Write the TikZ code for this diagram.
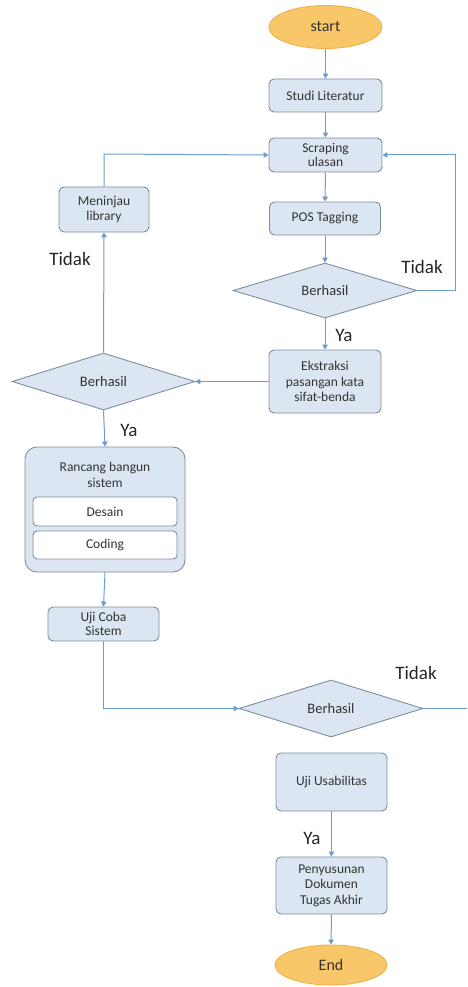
\documentclass[tikz,border=0pt]{standalone}
\usepackage{fontspec}
\setmainfont{Carlito}
\usetikzlibrary{shapes.geometric,arrows.meta}
\definecolor{boxfill}{HTML}{DCE6F2}
\definecolor{boxline}{HTML}{7D8DA0}
\definecolor{arr}{HTML}{6C9BD0}
\definecolor{ovfill}{HTML}{F8C76A}
\definecolor{ovline}{HTML}{EDB246}
\definecolor{txt}{HTML}{333333}
\begin{document}
\begin{tikzpicture}[x=1pt,y=-1pt,
  every node/.style={text=txt,font=\fontsize{13.5}{15.5}\selectfont},
  pbox/.style={draw=boxline,fill=boxfill,line width=0.9pt,rounded corners=5pt,align=center,inner sep=1pt},
  subbox/.style={draw=boxline,fill=white,line width=0.9pt,rounded corners=4pt,align=center,inner sep=1pt},
  oval/.style={ellipse,draw=ovline,fill=ovfill,line width=0.9pt,inner sep=0pt,font=\fontsize{16}{18}\selectfont},
  dec/.style={diamond,draw=boxline,fill=boxfill,line width=0.9pt,aspect=3.3,inner sep=0pt,font=\fontsize{14.5}{16}\selectfont},
  lbl/.style={font=\fontsize{19}{21}\selectfont,text=black!85},
  conn/.style={draw=arr,line width=1pt},
  arw/.style={conn,-{Triangle[length=5pt,width=5.5pt]}}]
\useasboundingbox (0,0) rectangle (467,987);
\node[oval,minimum width=113,minimum height=43] (start) at (325.5,27) {start};
\node[pbox,minimum width=113,minimum height=33] (studi) at (325.5,95.5) {Studi Literatur};
\node[pbox,minimum width=113,minimum height=34] (scrap) at (325.5,155) {Scraping\\[-2pt]ulasan};
\node[pbox,minimum width=111,minimum height=33] (pos) at (325,218.5) {POS Tagging};
\node[dec,minimum width=184,minimum height=55] (d1) at (325,290.5) {Berhasil};
\node[pbox,minimum width=90,minimum height=45] (mein) at (104,209.5) {Meninjau\\library};
\node[pbox,minimum width=112,minimum height=63] (eks) at (325,381.5) {Ekstraksi\\pasangan kata\\sifat-benda};
\node[dec,minimum width=183,minimum height=57] (d2) at (103.5,381.5) {Berhasil};
\node[pbox,rounded corners=12pt,minimum width=160,minimum height=125] (ranc) at (105,509.5) {};
\node[align=center] (rtitle) at (105,475) {Rancang bangun\\sistem};
\node[subbox,minimum width=144,minimum height=29] (desain) at (105,511.5) {Desain};
\node[subbox,minimum width=144,minimum height=28] (coding) at (105,545) {Coding};
\node[pbox,minimum width=111,minimum height=34] (ujic) at (103.5,624) {Uji Coba\\[-1pt]Sistem};
\node[dec,minimum width=184,minimum height=57] (d3) at (331,708.5) {Berhasil};
\node[pbox,minimum width=111,minimum height=58] (ujiu) at (331.5,782) {Uji Usabilitas};
\node[pbox,minimum width=111,minimum height=57] (peny) at (331.5,885.5) {Penyusunan\\Dokumen\\Tugas Akhir};
\node[oval,minimum width=112,minimum height=40] (end) at (331,965) {End};
% labels
\node[lbl] (t1) at (70,259) {Tidak};
\node[lbl] (t2) at (422,267) {Tidak};
\node[lbl] (y1) at (344,335) {Ya};
\node[lbl] (y2) at (129,430) {Ya};
\node[lbl] (t3) at (416,673) {Tidak};
\node[lbl] (y3) at (312,838) {Ya};
% coordinates
\coordinate (c1) at (455,290.5);
\coordinate (c2) at (455,155);
\coordinate (c3) at (104,154);
\coordinate (c4) at (103.5,708.5);
\coordinate (c5) at (467,708.5);
% connectors
\draw[arw] (start) -- (studi);
\draw[arw] (studi) -- (scrap);
\draw[arw] (scrap) -- (pos);
\draw[arw] (pos) -- (d1.north);
\draw[arw] (d1.east) -- (c1) -- (c2) -- (scrap.east);
\draw[arw] (d1.south) -- (eks.north);
\draw[arw] (eks.west) -- (d2.east);
\draw[arw] (d2.north) -- (mein.south);
\draw[arw] (mein.north) -- (c3) -- (scrap.west);
\draw[arw] (d2.south) -- (ranc.north);
\draw[arw] (ranc.south) -- (ujic.north);
\draw[arw] (ujic.south) -- (c4) -- (d3.west);
\draw[conn] (d3.east) -- (c5);
\draw[arw] (ujiu.south) -- (peny.north);
\draw[arw] (peny.south) -- (end.north);
\end{tikzpicture}
\end{document}
